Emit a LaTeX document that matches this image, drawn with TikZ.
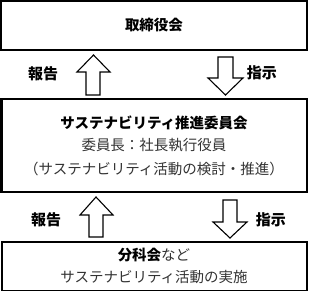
\documentclass[tikz,border=0pt]{standalone}
\usepackage{fontspec}
\setmainfont{Noto Sans CJK JP}
\begin{document}
\begin{tikzpicture}[x=1pt,y=1pt,
  box/.style={draw=black, line width=1.2pt, fill=white},
  mainbox/.style={draw=black, line width=2.6pt, fill=white},
  blockarrow/.style={draw=black, line width=1.1pt, fill=white, line join=miter},
  ttl/.style={font=\fontsize{14.5}{17}\selectfont\bfseries, text=black, inner sep=0pt},
  txt/.style={font=\fontsize{14.5}{17}\selectfont, text=black!80, inner sep=0pt},
  lbl/.style={font=\fontsize{15}{17}\selectfont\bfseries, text=black, inner sep=0pt}]
\useasboundingbox (0,0) rectangle (309,292);
% boxes (y = 292 - image y)
\draw[box] (1,291) rectangle (307,242);
\draw[mainbox] (1.8,193) rectangle (307.2,100);
\draw[box] (2,50) rectangle (307,1.2);
% texts
\node[ttl] (board) at (154,267) {取締役会};
\node[ttl] (comm) at (154,169) {サステナビリティ推進委員会};
\node[txt] (chair) at (154,146.5) {委員長：社長執行役員};
\node[txt] (role) at (154,123.5) {（サステナビリティ活動の検討・推進）};
\node[font=\fontsize{14.5}{17}\selectfont, inner sep=0pt] (sub) at (154,37) {\textbf{分科会}\textcolor{black!80}{など}};
\node[txt] (act) at (154,15) {サステナビリティ活動の実施};
\node[lbl] (rep1) at (43,218) {報告};
\node[lbl] (ins1) at (262,219) {指示};
\node[lbl] (rep2) at (46,72) {報告};
\node[lbl] (ins2) at (271,72) {指示};
% block arrows upper
\draw[blockarrow] (86,197) -- (86,220) -- (77,220) -- (93.5,237) -- (110,220) -- (100,220) -- (100,197) -- cycle;
\draw[blockarrow] (218,235) -- (218,214) -- (208,214) -- (225.5,197) -- (243,214) -- (233,214) -- (233,235) -- cycle;
% block arrows lower
\draw[blockarrow] (89,55) -- (89,77) -- (80,77) -- (96,95) -- (113,77) -- (103,77) -- (103,55) -- cycle;
\draw[blockarrow] (223,92) -- (223,70) -- (213,70) -- (230,54) -- (247,70) -- (237,70) -- (237,92) -- cycle;
\end{tikzpicture}
\end{document}
